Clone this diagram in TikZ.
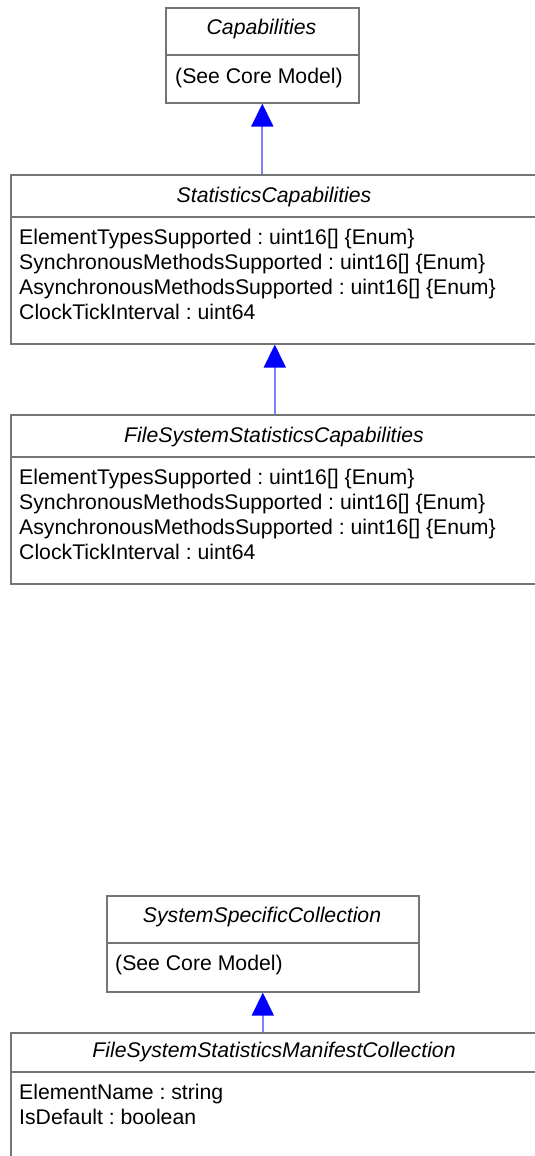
\documentclass[tikz,border=0pt]{standalone}
\usepackage{fontspec}
\setmainfont{Liberation Sans}
\usetikzlibrary{arrows.meta}
\definecolor{boxgray}{HTML}{757575}
\definecolor{genline}{HTML}{8080FF}
\definecolor{genhead}{HTML}{0000FF}
\frenchspacing
\begin{document}
\begin{tikzpicture}[x=1bp,y=-1bp,
  box/.style={draw=boxgray, line width=1.6bp, inner sep=0pt, anchor=north west},
  divider/.style={draw=boxgray, line width=1.6bp},
  title/.style={font=\fontsize{21.3}{25}\selectfont\itshape, inner sep=0pt, anchor=base},
  attr/.style={font=\fontsize{21.3}{25}\selectfont, inner sep=0pt, anchor=base west},
  gen/.style={draw=genline, line width=1.8bp, -{Triangle[width=22bp,length=23bp,color=genhead]}},
]
\useasboundingbox (0,0) rectangle (535,1156);

% Capabilities
\node[box, minimum width=193bp, minimum height=95bp] (cap) at (165,7) {};
\draw[divider] ([yshift=-48bp]cap.north west) -- ([yshift=-48bp]cap.north east);
\node[title] (capT) at (261.5,34) {Capabilities};
\node[attr] (capA) at (175,83) {(See Core Model)};

% StatisticsCapabilities
\node[box, minimum width=528bp, minimum height=169bp] (stat) at (10,174) {};
\draw[divider] ([yshift=-43bp]stat.north west) -- ([yshift=-43bp]stat.north east);
\node[title] (statT) at (274,202) {StatisticsCapabilities};
\node[attr] (statA1) at (19,244) {ElementTypesSupported : uint16[] \{Enum\}};
\node[attr] (statA2) at (19,269) {SynchronousMethodsSupported : uint16[] \{Enum\}};
\node[attr] (statA3) at (19,294) {AsynchronousMethodsSupported : uint16[] \{Enum\}};
\node[attr] (statA4) at (19,319) {ClockTickInterval : uint64};

% FileSystemStatisticsCapabilities
\node[box, minimum width=528bp, minimum height=169bp] (fsc) at (10,414) {};
\draw[divider] ([yshift=-43bp]fsc.north west) -- ([yshift=-43bp]fsc.north east);
\node[title] (fscT) at (274,442) {FileSystemStatisticsCapabilities};
\node[attr] (fscA1) at (19,484) {ElementTypesSupported : uint16[] \{Enum\}};
\node[attr] (fscA2) at (19,509) {SynchronousMethodsSupported : uint16[] \{Enum\}};
\node[attr] (fscA3) at (19,534) {AsynchronousMethodsSupported : uint16[] \{Enum\}};
\node[attr] (fscA4) at (19,559) {ClockTickInterval : uint64};

% SystemSpecificCollection
\node[box, minimum width=312bp, minimum height=96bp] (ssc) at (106,895) {};
\draw[divider] ([yshift=-48bp]ssc.north west) -- ([yshift=-48bp]ssc.north east);
\node[title] (sscT) at (262,922) {SystemSpecificCollection};
\node[attr] (sscA) at (115,970) {(See Core Model)};

% FileSystemStatisticsManifestCollection
\node[box, minimum width=528bp, minimum height=150bp] (fsm) at (10,1032) {};
\draw[divider] ([yshift=-40bp]fsm.north west) -- ([yshift=-40bp]fsm.north east);
\node[title] (fsmT) at (274,1057) {FileSystemStatisticsManifestCollection};
\node[attr] (fsmA1) at (19,1099) {ElementName : string};
\node[attr] (fsmA2) at (19,1124) {IsDefault : boolean};

% generalizations
\draw[gen] (stat.north -| cap.south) -- (cap.south);
\draw[gen] (fsc.north) -- (stat.south);
\draw[gen] (fsm.north -| ssc.south) -- (ssc.south);
\end{tikzpicture}
\end{document}
